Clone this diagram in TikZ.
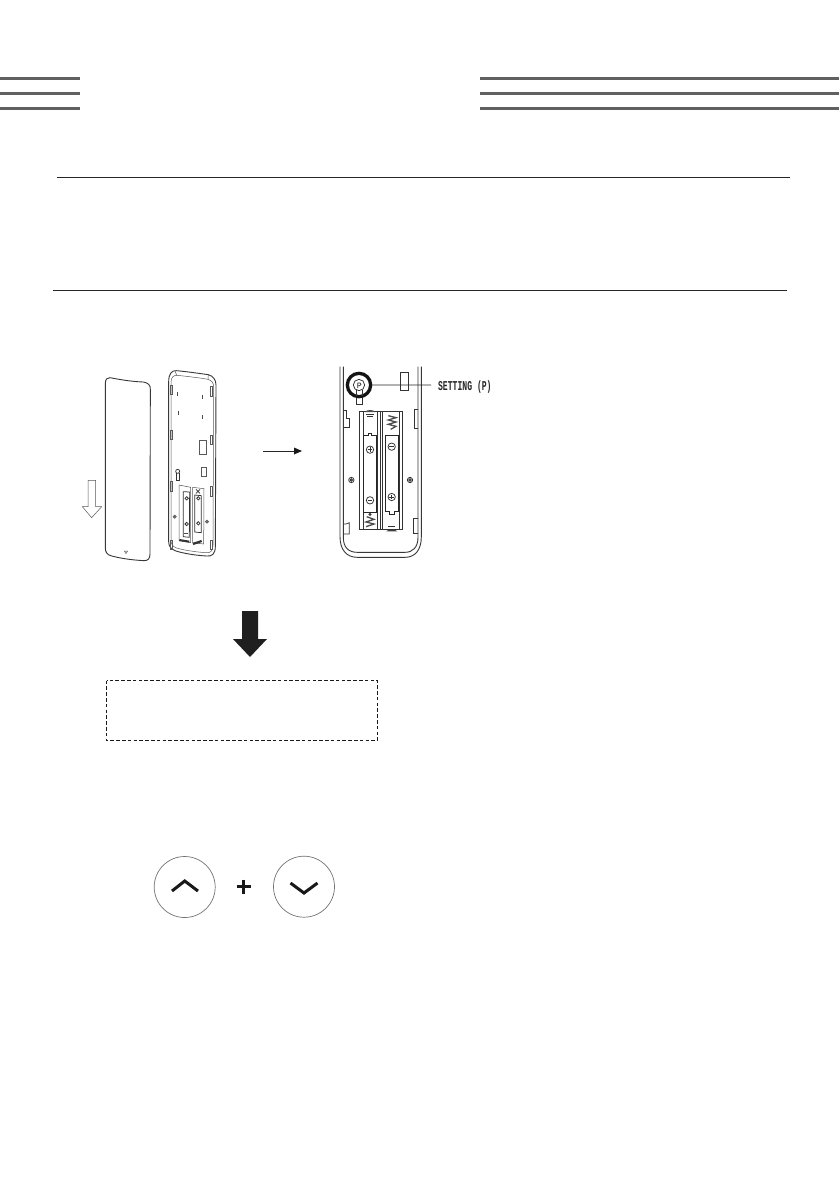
\documentclass[tikz,border=0pt]{standalone}
\usepackage{fontspec}
\setmainfont{Liberation Mono}
\tikzset{
  x=1pt,y=-1pt,
  bar/.style={draw=black!62,line width=3pt},
  rulef/.style={draw=black!85,line width=.9pt},
  thinl/.style={draw=black!78,line width=.9pt},
  finel/.style={draw=black!65,line width=.5pt},
  smalldark/.style={draw=black!80,line width=.75pt},
  keybtn/.style={draw=black!55,line width=.7pt},
  chev/.style={draw=black!90,line width=3pt,line join=miter},
  lbl/.style={font=\bfseries\fontsize{13.5}{15}\selectfont,inner sep=0pt,xscale=.6,text=black!85}
}
\begin{document}
\begin{tikzpicture}
\useasboundingbox (0,0) rectangle (839,1191);
\fill[white] (0,0) rectangle (839,1191);
% header bars
\foreach \yy in {78,93,108}{
  \draw[bar] (0,\yy) -- (80,\yy);
  \draw[bar] (480,\yy) -- (839,\yy);
}
\draw[rulef] (57,177.5) -- (790,177.5);
\draw[rulef] (53,290.5) -- (787,290.5);

% --- left: cover and open remote (zoom coords)
\begin{scope}[shift={(60,350)},scale=1/3]
  % hollow arrow
  \draw[finel,fill=white] (84,391) -- (107,391) -- (107,470) -- (125,470) -- (95,503) -- (67,470) -- (84,470) -- cycle;
  % cover
  \draw[thinl] (136,100) .. controls (136,88) and (142,82) .. (150,83)
     .. controls (185,90) and (220,95) .. (250,96)
     .. controls (264,98) and (272,106) .. (271,118)
     -- (270,612) .. controls (270,626) and (264,632) .. (252,632)
     .. controls (215,630) and (180,625) .. (152,617)
     .. controls (142,614) and (136,606) .. (136,595) -- cycle;
  \draw[finel] (193,603) -- (203,603) -- (198,611) -- cycle;
  % body
  \draw[thinl] (326,95) .. controls (326,72) and (335,60) .. (350,62)
     .. controls (390,66) and (430,72) .. (445,74)
     .. controls (460,78) and (468,90) .. (468,105)
     -- (466,590) .. controls (466,612) and (455,620) .. (440,618)
     .. controls (405,616) and (370,610) .. (348,603)
     .. controls (334,598) and (326,590) .. (326,575) -- cycle;
  \draw[finel] (333,98) .. controls (333,82) and (340,75) .. (352,76)
     .. controls (390,80) and (430,85) .. (444,88)
     .. controls (455,92) and (461,98) .. (461,110)
     -- (459,585) .. controls (459,604) and (450,610) .. (438,608)
     .. controls (405,606) and (370,600) .. (350,594)
     .. controls (338,590) and (333,582) .. (333,570) -- cycle;
  \draw[finel] (345,62) -- (350,76) (445,74) -- (444,88);
  % clips
  \foreach \cx/\cy in {331/105,331/240,331/395,331/570,451/110,451/255,451/410,451/570}{
    \draw[finel] (\cx,\cy) rectangle ++(5,28);
  }
  \foreach \mx/\my in {353/125,428/135,354/183,428/195}{
    \draw[draw=black!70,line width=1pt] (\mx,\my) -- ++(0,12);
  }
  \draw[finel] (419,270) rectangle (439,313);
  \draw[finel] (424,352) rectangle (439,380);
  % keyhole
  \draw[smalldark] (353,364) circle (6);
  \draw[smalldark] (349,370) -- (349,390) -- (357,390) -- (357,370);
  % battery compartment
  \draw[finel] (357,405) -- (392,412) -- (392,578) -- (357,572) -- cycle;
  \draw[finel] (398,412) -- (432,416) -- (431,582) -- (398,578) -- cycle;
  \draw[smalldark] (370,425) -- (389,426) -- (388,562) -- (370,560) -- cycle;
  \draw[smalldark] (404,435) -- (424,437) -- (424,548) -- (404,546) -- cycle;
  \foreach \sx/\sy in {380/445,380/522,415/445,415/520}{\draw[smalldark] (\sx,\sy) circle (5);}
  \foreach \sx/\sy in {344/500,441/515}{\draw[finel,fill=black!55] (\sx,\sy) circle (5);}
  \draw[line width=2pt,draw=black!80] (358,570) -- (388,575);
  \draw[line width=2.2pt,draw=black!80] (399,582) -- (425,573);
  \draw[line width=1.2pt,draw=black!70] (372,551) -- (384,551);
  \draw[smalldark] (408,418) -- (420,430) (420,418) -- (408,430);
\end{scope}

% arrow between illustrations
\coordinate (arrA) at (263,451);
\coordinate (arrB) at (302,451);
\draw[draw=black!85,line width=.8pt] (arrA) -- (295,451);
\fill[black!90] (arrB) -- (294,447.5) -- (294,454.5) -- cycle;

% --- right: battery detail (zoom coords)
\begin{scope}[shift={(320,350)},scale=1/3]
  \draw[thinl] (60,50) -- (60,560) .. controls (60,600) and (80,622) .. (112,622)
     -- (255,622) .. controls (285,622) and (304,600) .. (304,560) -- (304,50);
  \draw[thinl] (70,50) -- (70,562) .. controls (70,592) and (85,607) .. (112,607)
     -- (255,607) .. controls (278,607) and (294,592) .. (294,562) -- (294,50);
  % wall clips
  \draw[smalldark] (70,180) -- (78,180) -- (78,205) -- (88,205) -- (88,232) -- (70,232);
  \draw[smalldark] (70,522) -- (78,522) -- (88,518) -- (88,552) -- (70,552);
  \draw[smalldark] (294,178) -- (282,178) -- (282,235) -- (294,235);
  \draw[smalldark] (294,505) -- (280,505) -- (280,550) -- (294,550);
  % screws
  \foreach \sx/\sy in {94/390,270/390}{
    \draw[smalldark] (\sx,\sy) circle (8);
    \draw[smalldark,fill=black!50] (\sx,\sy) circle (4);
  }
  % setting hole
  \draw[smalldark] (110,140) -- (110,162) -- (127,162) -- (127,140);
  \draw[draw=black!92,line width=3.3pt,fill=white] (117,105) circle (35);
  \draw[smalldark] (117,105) circle (17);
  \draw[smalldark] (108,120) -- (108,137) (126,120) -- (126,137);
  \draw[smalldark,line width=.7pt] (113,114) -- (113,99) -- (120,99) .. controls (124,100) and (124,106) .. (119,107) -- (113,107);
  \coordinate (leadA) at (157,105);
  \draw[smalldark] (241,67) rectangle (266,122);
  % compartment
  \draw[smalldark] (118,185) -- (247,185) -- (247,537) -- (118,537) -- cycle;
  \draw[smalldark] (130,185) -- (130,537) (172,185) -- (172,537) (180,185) -- (180,537) (187,185) -- (187,537) (238,185) -- (238,537);
  % left cell window with notch on top
  \draw[draw=black!85,line width=1pt] (131,255) -- (144,255) -- (144,250) -- (155,250) -- (155,255) -- (168,255) -- (168,487) -- (131,487) -- cycle;
  % right cell window with notch below
  \draw[draw=black!85,line width=1pt] (196,257) -- (234,257) -- (234,483) -- (222,483) -- (222,492) -- (208,492) -- (208,483) -- (196,483) -- cycle;
  % polarity
  \foreach \sx/\sy/\ss in {150/299/1,150/451/0,215/290/0,215/441/1}{
    \draw[smalldark] (\sx,\sy) circle (11);
    \draw[smalldark] (\sx-7,\sy) -- (\sx+7,\sy);
    \ifnum\ss=1 \draw[smalldark] (\sx,\sy-7) -- (\sx,\sy+7);\fi
  }
  % springs
  \draw[draw=black!70,line width=1.3pt] (205,197) -- (228,203) -- (205,210) -- (228,216) -- (205,223) -- (228,229) -- (212,238);
  \draw[draw=black!70,line width=1.3pt] (138,530) -- (162,522) -- (138,516) -- (162,508) -- (140,500);
  \fill[black!75] (150,493) circle (5);
  % contacts
  \fill[black!70] (135,186) .. controls (140,178) and (160,178) .. (166,186) -- cycle;
  \draw[smalldark] (138,192) -- (163,192) (142,198) -- (158,198);
  \fill[black!75] (199,544) .. controls (205,536) and (225,536) .. (232,544) -- cycle;
  \draw[smalldark] (204,530) -- (226,530);
\end{scope}
% label
\node[lbl,anchor=west] (settinglbl) at (438,387.5) {SETTING (P)};
\draw[draw=black!85,line width=.8pt] (leadA) -- (431,385);

% big arrow
\fill[black!88] (242,611) -- (258,611) -- (258,639) -- (267,639) -- (250,657) -- (233,639) -- (242,639) -- cycle;
% dashed box
\draw[draw=black!90,line width=.9pt,dash pattern=on 3.6pt off 2.2pt] (106.5,680.5) rectangle (377.5,740.5);

% buttons
\node[circle,keybtn,minimum size=61pt,inner sep=0pt] (upkey) at (184.7,887) {};
\node[circle,keybtn,minimum size=61pt,inner sep=0pt] (downkey) at (304,886.7) {};
\draw[chev] (172,891) -- (184.7,881) -- (198,891);
\draw[chev] (290.5,883) -- (304,893) -- (317.5,883);
\draw[draw=black!90,line width=3.2pt] (236.5,886.7) -- (251,886.7) (243.7,879.5) -- (243.7,894);
\end{tikzpicture}
\end{document}
